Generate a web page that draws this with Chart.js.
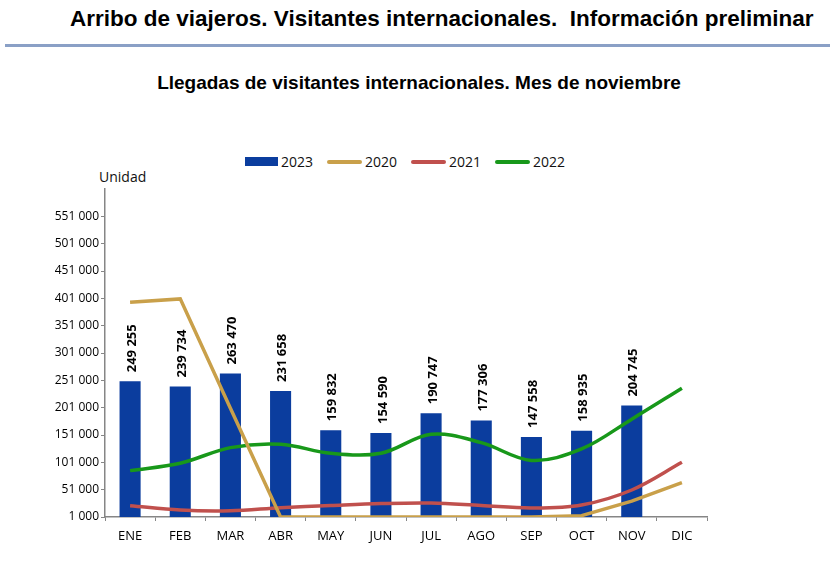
<!DOCTYPE html>
<html lang="es">
<head>
<meta charset="utf-8">
<script src="https://cdn.jsdelivr.net/npm/chart.js@4.4.0/dist/chart.umd.min.js"></script>
<style>
  body { margin: 0; background: #fff; }
  #page { position: relative; width: 837px; height: 575px; overflow: hidden; font-family: "Liberation Sans", Arial, sans-serif; }
  #mainTitle { position: absolute; left: 70px; top: 6px; font-size: 22.5px; font-weight: bold; color: #000; white-space: pre; }
  #rule { position: absolute; left: 5px; top: 44px; width: 825px; height: 3px; background: #8aa0c6; }
  #subTitle { position: absolute; left: 0; width: 838px; top: 72px; text-align: center; font-size: 19px; font-weight: bold; color: #000; }
  #unit { position: absolute; left: 99px; top: 167px; font-family: "Open Sans", sans-serif; font-size: 14px; color: #111; }
  #legend { position: absolute; left: 245px; top: 152px; display: flex; align-items: center; font-family: "Open Sans", sans-serif; font-size: 14px; color: #111; }
  .item { display: flex; align-items: center; margin-right: 14px; }
  .sw { margin-right: 3px; }
  canvas { position: absolute; left: 0; top: 0; }
</style>
</head>
<body>
<div id="page">
  <div id="mainTitle">Arribo de viajeros. Visitantes internacionales.  Información preliminar</div>
  <div id="rule"></div>
  <div id="subTitle">Llegadas de visitantes internacionales. Mes de noviembre</div>
  <div id="legend"></div>
  <div id="unit">Unidad</div>
  <canvas id="chart" width="837" height="575"></canvas>
</div>
<script>
// ================= DATA =================
const months = ["ENE", "FEB", "MAR", "ABR", "MAY", "JUN", "JUL", "AGO", "SEP", "OCT", "NOV", "DIC"];
const visits2023 = [249255, 239734, 263470, 231658, 159832, 154590, 190747, 177306, 147558, 158935, 204745, null];
const visits2020 = [394000, 400000, 200000, 1000, 1000, 1000, 1000, 1000, 1000, 3500, 30000, 64000];
const visits2021 = [21700, 13800, 12500, 18000, 22000, 25500, 26500, 22000, 17500, 23000, 50400, 101000];
const visits2022 = [85800, 99300, 127900, 134000, 117600, 117600, 152400, 137000, 104500, 125500, 180000, 236600];
const yTicks = [1000, 51000, 101000, 151000, 201000, 251000, 301000, 351000, 401000, 451000, 501000, 551000];

const COLORS = { y2023: "#0b3d9e", y2020: "#c9a04a", y2021: "#c0504d", y2022: "#18981a" };

function fmt(v) {
  return String(v).replace(/\B(?=(\d{3})+(?!\d))/g, " ");
}

// ================= LEGEND =================
function buildLegend() {
  const items = [
    { label: "2023", color: COLORS.y2023, bar: true },
    { label: "2020", color: COLORS.y2020 },
    { label: "2021", color: COLORS.y2021 },
    { label: "2022", color: COLORS.y2022 }
  ];
  const box = document.getElementById("legend");
  items.forEach(it => {
    const h = it.bar ? 9 : 4;
    const w = it.bar ? 33 : 35;
    box.innerHTML += `
      <div class="item">
        <span class="sw" style="display:inline-block;width:${w}px;height:${h}px;background:${it.color};border-radius:${it.bar ? 0 : 2}px"></span>
        <span>${it.label}</span>
      </div>`;
  });
}

// rotated value labels above the bars
const barLabels = {
  id: "barLabels",
  afterDatasetsDraw(chart) {
    const meta = chart.getDatasetMeta(0);
    const ctx = chart.ctx;
    ctx.save();
    ctx.font = "bold 13px 'Open Sans', sans-serif";
    ctx.fillStyle = "#000";
    ctx.textAlign = "left";
    ctx.textBaseline = "middle";
    meta.data.forEach((bar, i) => {
      const v = visits2023[i];
      if (v == null) return;
      ctx.save();
      ctx.translate(bar.x + 2, bar.y - 9);
      ctx.rotate(-Math.PI / 2);
      ctx.fillText(fmt(v), 0, 0);
      ctx.restore();
    });
    ctx.restore();
  }
};

// ================= CHART =================
function loadChart() {
  const ctx = document.getElementById("chart");
  new Chart(ctx, {
    type: "bar",
    data: {
      labels: months,
      datasets: [
        {
          label: "2023",
          data: visits2023,
          backgroundColor: COLORS.y2023,
          barPercentage: 0.42,
          categoryPercentage: 1,
          order: 5
        },
        {
          type: "line",
          label: "2020",
          data: visits2020,
          borderColor: COLORS.y2020,
          borderWidth: 3.5,
          pointRadius: 0,
          tension: 0,
          order: 1
        },
        {
          type: "line",
          label: "2021",
          data: visits2021,
          borderColor: COLORS.y2021,
          borderWidth: 3.5,
          pointRadius: 0,
          tension: 0.35,
          order: 1
        },
        {
          type: "line",
          label: "2022",
          data: visits2022,
          borderColor: COLORS.y2022,
          borderWidth: 3.5,
          pointRadius: 0,
          tension: 0.35,
          order: 1
        }
      ]
    },
    options: {
      responsive: false,
      animation: false,
      layout: { padding: { left: 45, right: 130, top: 189, bottom: 18 } },
      plugins: { legend: { display: false }, tooltip: { enabled: false } },
      scales: {
        x: {
          grid: { drawOnChartArea: false, color: "#868686", tickLength: 4, offset: true },
          border: { color: "#868686", width: 1.5 },
          ticks: { color: "#000", font: { family: "'Open Sans', sans-serif", size: 13 }, padding: 7 },
          afterFit: s => { s.height = 40; }
        },
        y: {
          min: 1000,
          max: 601000,
          afterBuildTicks: s => { s.ticks = yTicks.map(v => ({ value: v })); },
          afterFit: s => { s.width = 60; },
          grid: { drawOnChartArea: false, color: "#868686", tickLength: 4 },
          border: { color: "#868686", width: 1.5 },
          ticks: {
            color: "#000",
            font: { family: "'Open Sans', sans-serif", size: 12 },
            padding: 2,
            callback: v => fmt(v)
          }
        }
      }
    },
    plugins: [barLabels]
  });
}

window.onload = () => {
  buildLegend();
  loadChart();
};
</script>
</body>
</html>
